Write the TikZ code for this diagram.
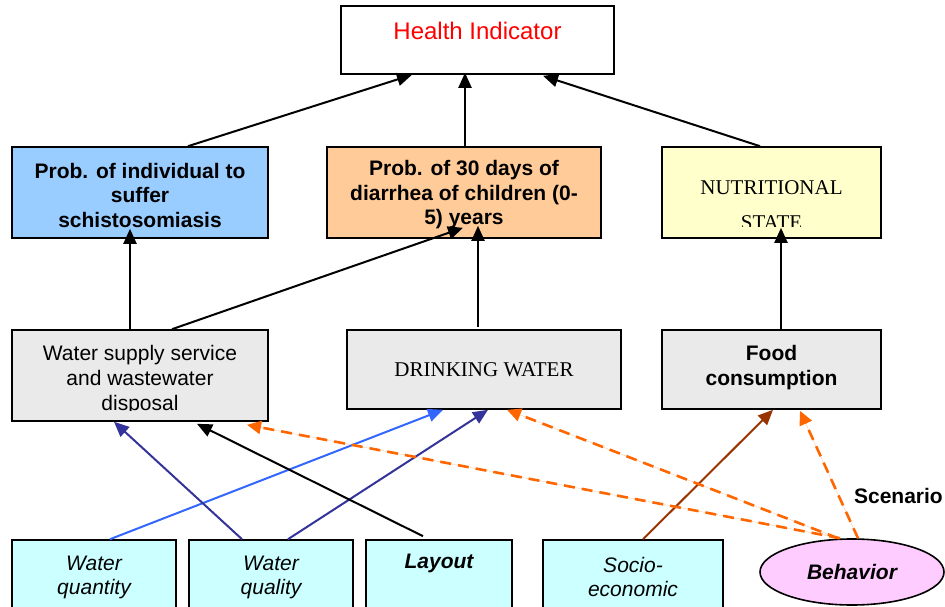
\documentclass[tikz,border=0pt]{standalone}
\usepackage{fontspec}
\setmainfont{Liberation Serif}
\setsansfont{Liberation Sans}
\usetikzlibrary{arrows.meta,shapes.geometric}
\definecolor{cblue}{HTML}{99CCFF}
\definecolor{corange}{HTML}{FFCC99}
\definecolor{cyellow}{HTML}{FFFFCC}
\definecolor{cgray}{HTML}{EAEAEA}
\definecolor{ccyan}{HTML}{CCFFFF}
\definecolor{cpink}{HTML}{FFCCFF}
\definecolor{lblue}{HTML}{3366FF}
\definecolor{dblue}{HTML}{333399}
\definecolor{brown}{HTML}{993300}
\definecolor{orangeA}{HTML}{FF6600}
\tikzset{
  box/.style={draw=black, line width=1.6pt, rectangle, inner sep=0pt, align=center,
    font=\sffamily\fontsize{21}{24.5}\selectfont},
  txt/.style={inner sep=0pt, align=center, font=\sffamily\fontsize{21}{24.5}\selectfont},
  arr/.style={line width=2pt, -{Triangle[length=15pt,width=13pt]}},
  dsh/.style={line width=2.6pt, draw=orangeA, fill=orangeA, dash pattern=on 11pt off 7pt,
    -{Triangle[length=14pt,width=13pt]}},
}
\begin{document}
\begin{tikzpicture}[x=1pt,y=-1pt]
\useasboundingbox (0,0) rectangle (945,607);
% top
\node[box, minimum width=273pt, minimum height=68pt] (hi) at (477.5,40) {};
\node[txt, text=red, font=\sffamily\fontsize{24}{28}\selectfont] (hit) at (477.5,31) {Health Indicator};
% row 2
\node[box, fill=cblue, minimum width=256pt, minimum height=91pt] (sch) at (140,192.5) {};
\node[txt, font=\sffamily\bfseries\fontsize{21}{24.5}\selectfont] (scht) at (140,195) {Prob. of individual to\\suffer\\schistosomiasis};
\node[box, fill=corange, minimum width=274pt, minimum height=91pt] (dia) at (464,192.5) {};
\node[txt, font=\sffamily\bfseries\fontsize{21}{24.5}\selectfont] (diat) at (464,195) {Prob. of 30 days of\\diarrhea of children (0-\\5) years};
\node[box, fill=cyellow, minimum width=219pt, minimum height=91pt] (nut) at (771.5,192.5) {};
\begin{scope}
  \clip (nut.north west) rectangle ([yshift=12pt]nut.south east);
  \node[txt, font=\rmfamily\fontsize{21}{35}\selectfont] (nutt) at (771.5,205) {NUTRITIONAL\\STATE};
\end{scope}
% row 3
\node[box, fill=cgray, minimum width=256pt, minimum height=91pt] (ws) at (140,375.5) {};
\begin{scope}
  \clip (ws.north west) rectangle ([yshift=11pt]ws.south east);
  \node[txt, font=\sffamily\fontsize{21}{25}\selectfont] (wst) at (140,380) {Water supply service\\and wastewater\\disposal};
\end{scope}
\node[box, fill=cgray, minimum width=274pt, minimum height=79pt, font=\rmfamily\fontsize{21}{25}\selectfont] (dw) at (484,369.5) {DRINKING WATER};
\node[box, fill=cgray, minimum width=219pt, minimum height=79pt] (food) at (771.5,369.5) {};
\node[txt, font=\sffamily\bfseries\fontsize{21}{25}\selectfont] (foodt) at (771.5,367.5) {Food\\consumption};
% bottom row
\node[box, fill=ccyan, minimum width=164pt, minimum height=74pt, font=\sffamily\itshape\fontsize{21}{24}\selectfont] (wqn) at (94,577) {Water\\quantity};
\node[box, fill=ccyan, minimum width=164pt, minimum height=74pt, font=\sffamily\itshape\fontsize{21}{24}\selectfont] (wql) at (271,577) {Water\\quality};
\node[box, fill=ccyan, minimum width=146pt, minimum height=74pt, font=\sffamily\bfseries\itshape\fontsize{21}{24}\selectfont] (lay) at (439,577) {Layout\\\strut};
\node[box, fill=ccyan, minimum width=180pt, minimum height=74pt, font=\sffamily\itshape\fontsize{21}{24}\selectfont] (soc) at (633,577) {Socio-\\economic};
\node[draw=black, line width=1.6pt, ellipse, fill=cpink, minimum width=184pt, minimum height=66pt, inner sep=0pt, font=\sffamily\bfseries\itshape\fontsize{21}{24}\selectfont] (beh) at (852,572) {Behavior};
\node[txt, font=\sffamily\bfseries\fontsize{21}{24}\selectfont, anchor=east] (scen) at (943,496) {Scenario};
% arrows to health indicator
\draw[arr] ([xshift=48pt]sch.north) -- ([xshift=-65.5pt]hi.south);
\draw[arr] ([xshift=1pt]dia.north) -- ([xshift=-12.5pt,yshift=2pt]hi.south);
\draw[arr] ([xshift=-11.5pt]nut.north) -- ([xshift=65.5pt,yshift=-1pt]hi.south);
% row 3 to row 2
\draw[arr] ([xshift=-10pt]ws.north) -- ([xshift=-10pt,yshift=10pt]sch.south);
\draw[arr] ([xshift=32pt]ws.north) -- ([xshift=-1pt,yshift=11pt]dia.south);
\draw[arr] ([xshift=-6pt,yshift=2pt]dw.north) -- ([xshift=14pt,yshift=13pt]dia.south);
\draw[arr] ([xshift=9.5pt]food.north) -- ([xshift=9.5pt,yshift=11pt]nut.south);
% bottom to row 3
\draw[arr, draw=lblue, fill=lblue] ([xshift=16pt]wqn.north) -- ([xshift=-41pt]dw.south);
\draw[arr, draw=dblue, fill=dblue] ([xshift=-29pt]wql.north) -- ([xshift=-26pt]ws.south);
\draw[arr, draw=dblue, fill=dblue] ([xshift=17pt]wql.north) -- ([xshift=4pt]dw.south);
\draw[arr] ([xshift=-16pt,yshift=3pt]lay.north) -- ([xshift=57pt,yshift=-2pt]ws.south);
\draw[arr, draw=brown, fill=brown] ([xshift=10pt]soc.north) -- ([xshift=1.5pt]food.south);
\draw[dsh] ([xshift=-12pt]beh.north) -- ([xshift=107pt,yshift=-3pt]ws.south);
\draw[dsh] ([xshift=-14pt]beh.north) -- ([xshift=23pt]dw.south);
\draw[dsh] ([xshift=6pt]beh.north) -- ([xshift=28.5pt,yshift=-1pt]food.south);
\end{tikzpicture}
\end{document}
